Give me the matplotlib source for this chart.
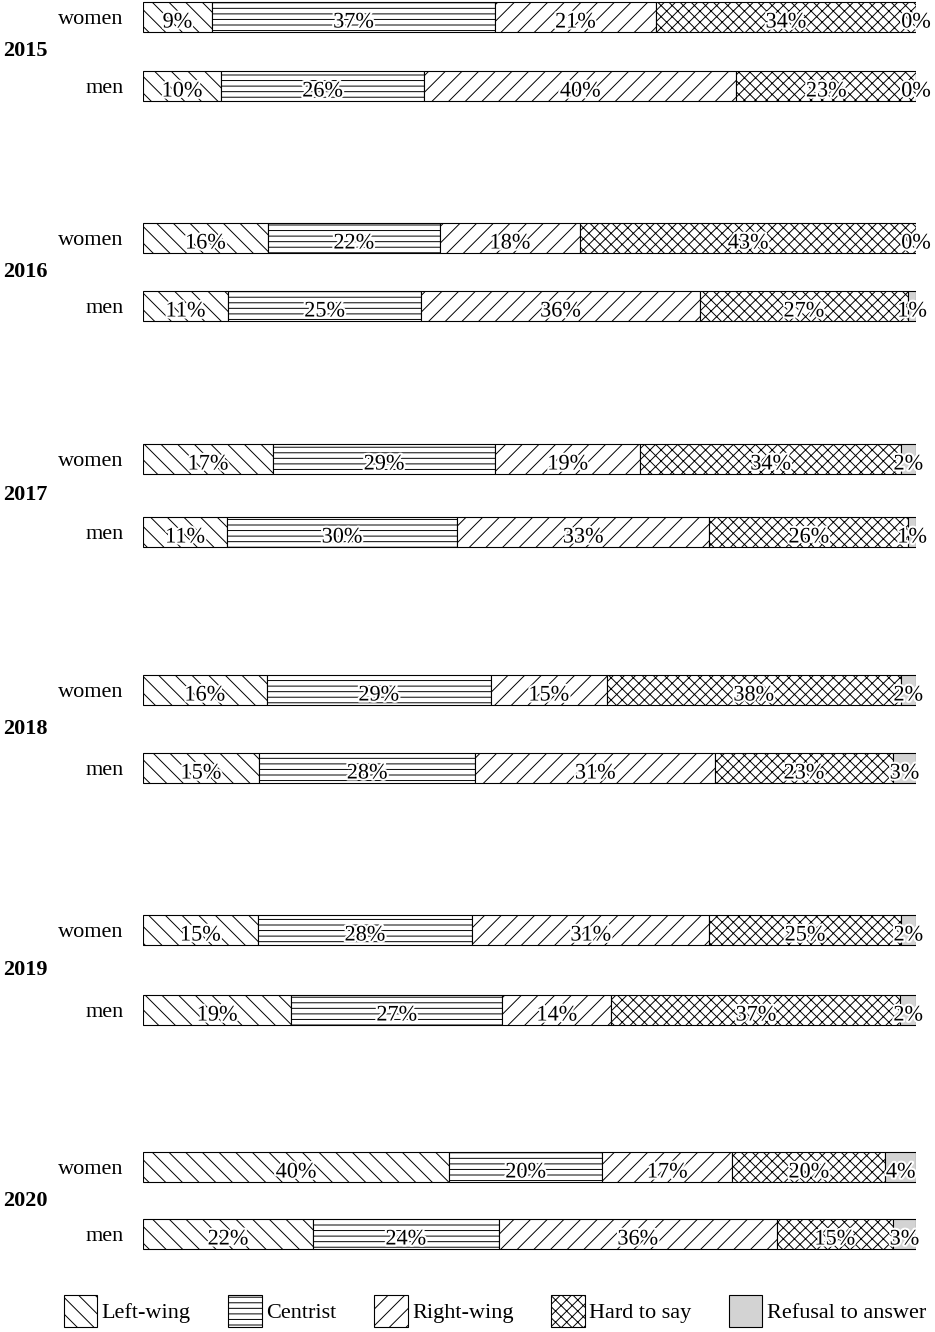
import matplotlib.pyplot as plt
import numpy as np
from matplotlib.patches import Patch
from matplotlib import patheffects
import matplotlib.transforms as mtransforms

plt.rcParams['font.family'] = ['Liberation Serif', 'DejaVu Serif']
plt.rcParams['hatch.linewidth'] = 0.7

# Data (rows: 2015 women, 2015 men, 2016 women, ...)
years = ['2015', '2016', '2017', '2018', '2019', '2020']
groups = ['women', 'men']
categories = ['Left-wing', 'Centrist', 'Right-wing', 'Hard to say', 'Refusal to answer']

left_wing = [9, 10, 16, 11, 17, 11, 16, 15, 15, 19, 40, 22]
centrist = [37, 26, 22, 25, 29, 30, 29, 28, 28, 27, 20, 24]
right_wing = [21, 40, 18, 36, 19, 33, 15, 31, 31, 14, 17, 36]
hard_to_say = [34, 23, 43, 27, 34, 26, 38, 23, 25, 37, 20, 15]
refusal = [0, 0, 0, 1, 2, 1, 2, 3, 2, 2, 4, 3]

# Layout: bar centres in pixels from the top of the figure
bar_centers = [17, 86, 238, 306, 459, 532, 690, 768, 930, 1010, 1167, 1234]
bar_height = 30

hatches = ['\\\\', '---', '//', 'xxx', '']
colors = ['white', 'white', 'white', 'white', '#d3d3d3']

W, H = 935, 1332
fig = plt.figure(figsize=(W / 100, H / 100), dpi=100)
ax_left, ax_right, ax_bottom = 143, 916, 1262
ax = fig.add_axes([ax_left / W, (H - ax_bottom) / H, (ax_right - ax_left) / W, ax_bottom / H])

series = np.array([left_wing, centrist, right_wing, hard_to_say, refusal], dtype=float)
totals = series.sum(axis=0)
shares = series / totals * 100

stroke = [patheffects.withStroke(linewidth=3, foreground='white')]
lefts = np.zeros(len(bar_centers))
for i, cat in enumerate(categories):
    ax.barh(bar_centers, shares[i], left=lefts, height=bar_height,
            color=colors[i], edgecolor='black', linewidth=0.8, hatch=hatches[i])
    for j, y in enumerate(bar_centers):
        ax.text(lefts[j] + shares[i][j] / 2, y + 10.5, f'{int(series[i][j])}%',
                ha='center', va='baseline', fontsize=16, path_effects=stroke)
    lefts += shares[i]

ax.set_xlim(0, 100)
ax.set_ylim(ax_bottom, 0)
ax.set_yticks(bar_centers)
ax.set_yticklabels(groups * len(years), fontsize=16)
ax.tick_params(axis='y', length=0, pad=14)
ax.set_xticks([])
for s in ax.spines.values():
    s.set_visible(False)

# Year labels between the two bars of each year
trans = mtransforms.blended_transform_factory(fig.transFigure, ax.transData)
for k, yr in enumerate(years):
    ymid = (bar_centers[2 * k] + bar_centers[2 * k + 1]) / 2
    ax.text(3 / W, ymid, yr, transform=trans, ha='left', va='center',
            fontsize=16, fontweight='bold')

# Legend
handles = [Patch(facecolor=colors[i], edgecolor='black', linewidth=0.8,
                 hatch=hatches[i], label=categories[i]) for i in range(5)]
fig.legend(handles=handles, loc='center', bbox_to_anchor=(495 / W, 1 - 1311 / H),
           ncol=5, frameon=False, fontsize=16, handlelength=1.5, handleheight=1.9,
           handletextpad=0.2, columnspacing=1.7)

fig.savefig('out.png', dpi=100)
